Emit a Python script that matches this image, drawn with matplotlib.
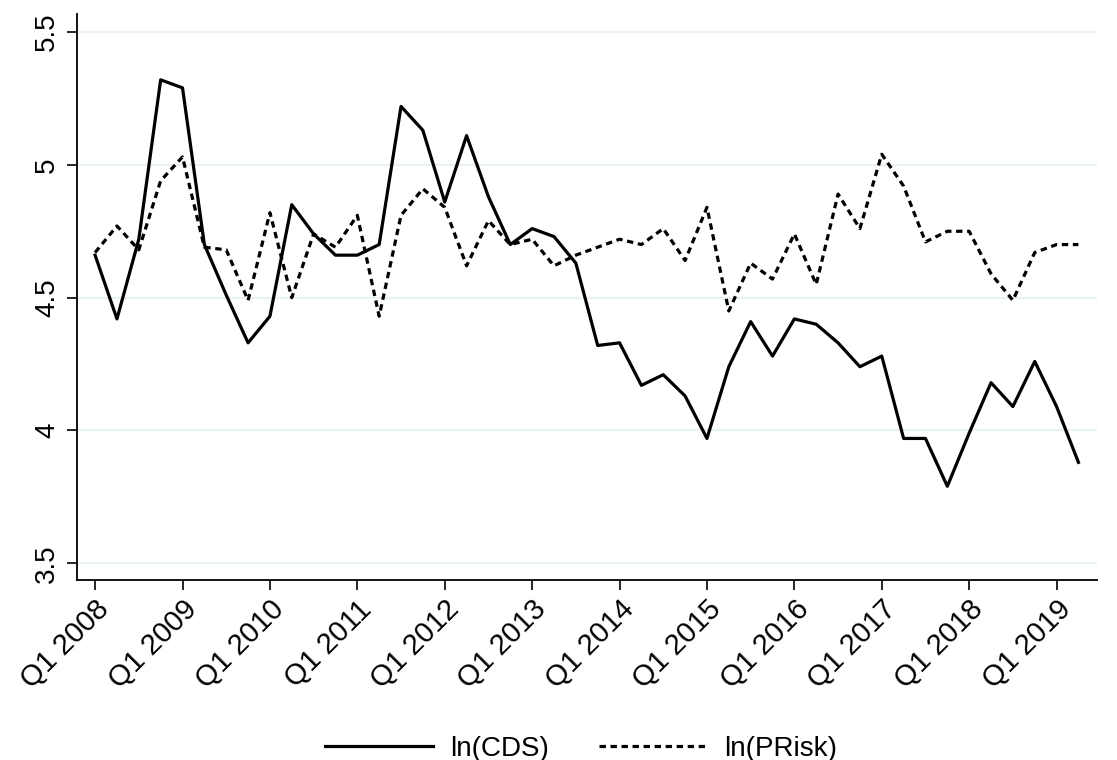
import numpy as np
import matplotlib
matplotlib.use("Agg")
import matplotlib.pyplot as plt

# quarterly series, Q1 2008 .. Q2 2019
quarters = ["Q%d %d" % (q, y) for y in range(2008, 2020) for q in range(1, 5)][:46]

ln_cds = [4.66, 4.42, 4.72, 5.32, 5.29, 4.70, 4.51, 4.33, 4.43, 4.85,
          4.74, 4.66, 4.66, 4.70, 5.22, 5.13, 4.86, 5.11, 4.88, 4.70,
          4.76, 4.73, 4.63, 4.32, 4.33, 4.17, 4.21, 4.13, 3.97, 4.24,
          4.41, 4.28, 4.42, 4.40, 4.33, 4.24, 4.28, 3.97, 3.97, 3.79,
          3.99, 4.18, 4.09, 4.26, 4.09, 3.88]

ln_prisk = [4.67, 4.77, 4.68, 4.94, 5.03, 4.69, 4.68, 4.49, 4.82, 4.50,
            4.74, 4.69, 4.81, 4.43, 4.81, 4.91, 4.84, 4.62, 4.79, 4.70,
            4.72, 4.62, 4.66, 4.69, 4.72, 4.70, 4.76, 4.64, 4.84, 4.45,
            4.63, 4.57, 4.74, 4.55, 4.89, 4.76, 5.04, 4.92, 4.71, 4.75,
            4.75, 4.59, 4.49, 4.67, 4.70, 4.70]

y_ticks = [3.5, 4, 4.5, 5, 5.5]
y_labels = ["3.5", "4", "4.5", "5", "5.5"]

plt.rcParams["font.family"] = ["Liberation Sans", "DejaVu Sans"]

fig = plt.figure(figsize=(11.17, 7.6), dpi=100)
ax = fig.add_axes([0.0689, 0.2368, 0.9136, 0.7448])

x = np.arange(len(ln_cds))
ax.plot(x, ln_cds, color="black", lw=2.3, label="ln(CDS)")
ax.plot(x, ln_prisk, color="black", lw=2.3, dashes=(2.0, 1.45), label="ln(PRisk)")

ax.set_xlim(-0.83, 45.87)
ax.set_ylim(3.437, 5.568)

ax.set_yticks(y_ticks)
ax.set_yticklabels(y_labels, rotation=90, va="center", fontsize=20)
ax.yaxis.grid(True, color="#eaf1f3", lw=1.6)
ax.set_axisbelow(True)

xt = np.arange(0, len(quarters), 4)
ax.set_xticks(xt)
ax.set_xticklabels([quarters[i] for i in xt], rotation=45, ha="right",
                   rotation_mode="anchor", fontsize=21)

ax.tick_params(axis="both", length=7, width=1.2, color="black")
ax.tick_params(axis="x", pad=4)
ax.tick_params(axis="y", pad=5)

for s in ["top", "right"]:
    ax.spines[s].set_visible(False)
for s in ["left", "bottom"]:
    ax.spines[s].set_linewidth(1.3)

fig.legend(loc="lower center", bbox_to_anchor=(0.52, -0.035), ncol=2, frameon=False,
           fontsize=20, handlelength=3.9, handletextpad=0.6, columnspacing=1.8)

plt.savefig("out.png", dpi=100)
